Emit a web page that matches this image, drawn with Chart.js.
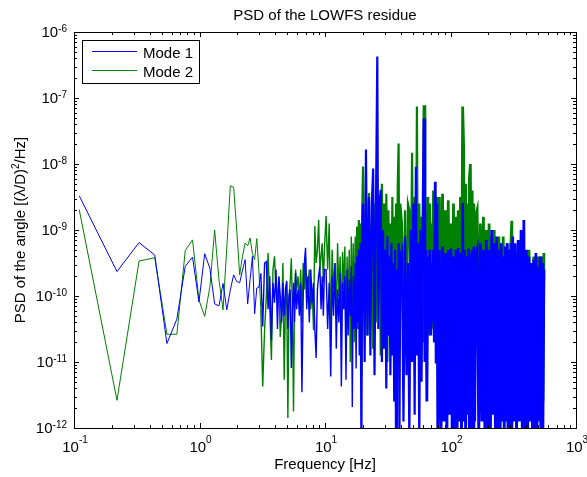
<!DOCTYPE html>
<html>
<head>
<meta charset="utf-8">
<title>PSD of the LOWFS residue</title>
<script src="https://cdn.jsdelivr.net/npm/chart.js@4.4.1/dist/chart.umd.min.js"></script>
<style>
  html, body { margin: 0; padding: 0; background: #fff; }
  canvas { display: block; }
</style>
</head>
<body>
<canvas id="psdChart" width="587" height="477"></canvas>
<script>
// frequencies [Hz] (dense part thinned to about one point per pixel)
const freqHz = [
    0.11, 0.22, 0.33, 0.44, 0.55, 0.66, 0.77, 0.88, 0.99, 1.1,
    1.21, 1.32, 1.43, 1.54, 1.65, 1.76, 1.87, 1.98, 2.09, 2.2,
    2.31, 2.42, 2.53, 2.64, 2.75, 2.86, 2.97, 3.08, 3.19, 3.3,
    3.41, 3.52, 3.63, 3.74, 3.85, 3.96, 4.07, 4.18, 4.29, 4.4,
    4.51, 4.62, 4.73, 4.84, 4.95, 5.06, 5.17, 5.28, 5.39, 5.5,
    5.61, 5.72, 5.83, 5.94,
    6.1, 6.25, 6.4, 6.55, 6.7, 6.85, 7.0, 7.15, 7.3, 7.5,
    7.7, 7.9, 8.1, 8.3, 8.5, 8.7, 8.9, 9.1, 9.3, 9.5,
    9.7, 9.9,
    10.2, 10.5, 10.8, 11.1, 11.4, 11.7, 12.0, 12.3, 12.6, 12.9,
    13.2, 13.5, 13.8, 14.1, 14.4, 14.7, 15.0, 15.3, 15.6, 15.9,
    16.2, 16.5, 16.8, 17.1, 17.4, 17.7, 18.0, 18.3, 18.6, 18.9,
    19.2, 19.5, 19.8,
    20.1, 20.7, 21.2, 21.8, 22.4, 23.0, 23.6, 24.2, 24.8, 25.4,
    26.1, 26.6, 27.2, 27.8, 28.4, 29.0, 29.6, 30.2, 30.8, 31.4,
    32.0, 32.6, 33.2, 33.8, 34.4, 35.0, 35.6, 36.2, 36.8, 37.4,
    38.0, 38.6, 39.2, 39.8,
    41, 42.2, 43.4, 44.6, 45.8, 47, 48.2, 49.4, 50.6, 51.8,
    53, 54, 55.2, 56.4, 57.6, 58.8, 60, 61.5, 62.5, 63.6,
    64.8, 66, 67.2, 68.4, 69.6, 70.8, 72, 73.2, 74.4, 75.6,
    76.8, 78, 79.2,
    81.6, 84, 86.4, 88.8, 91.2, 93.6, 96, 98.4, 100.8, 103.2,
    105.6, 108, 110.4, 112.8, 115.2, 117.6, 120, 122.4, 125, 127.2,
    129.6, 132, 134.4, 136.8, 139.2, 141.6, 144, 146.4, 148.8, 151.2,
    153.6, 156, 158.4,
    163, 168, 173, 178, 183, 188, 193, 198, 203, 208,
    213, 218, 223, 228, 233, 238, 243, 248, 253, 258,
    263, 268, 273, 278, 283, 288, 293, 298, 303, 308,
    313, 318,
    327, 336, 346, 355, 365, 374, 384, 393, 403, 412,
    422, 431, 441, 450, 460, 469, 479, 488, 498, 507,
    517, 526, 536, 545, 555
];

// log10 of the PSD, mode 1 (blue)
const mode1Exp = [
    -8.48, -9.63, -9.19, -9.38, -10.72, -10.35, -9.55, -9.41, -10.09, -9.36,
    -9.58, -10.12, -10.15, -9.81, -10.21, -9.91, -9.68, -9.78, -9.80, -9.61,
    -9.45, -10.12, -9.75, -9.40, -10.27, -9.88, -9.87, -9.66, -10.46, -9.5,
    -9.48, -10.2, -9.7, -10.67, -9.8, -10.1, -9.6, -10.5, -9.71, -10.0,
    -10.4, -9.8, -10.3, -9.9, -9.77, -10.5, -10.0, -9.9, -11.09, -10.2,
    -9.8, -10.4, -9.65, -10.2,
    -9.9, -10.3, -9.8, -11.46, -10.0, -9.5, -9.27, -10.2, -9.7, -10.4,
    -9.6, -10.1, -9.8, -10.5, -10.94, -9.9, -9.7, -9.55, -10.2, -9.7,
    -10.3, -9.6,
    -9.6, -10.5, -9.8, -11.22, -9.7, -10.3, -9.5, -10.8, -9.9, -10.4,
    -9.65, -11.37, -9.8, -10.2, -9.7, -11.27, -9.6, -10.6, -9.75, -10.3,
    -9.55, -11.68, -9.7, -10.5, -9.5, -11.1, -9.4, -10.4, -9.3, -10.9,
    -9.2, -12.3, -9.0,
    -8.6, -11.0, -7.78, -10.6, -8.5, -10.9, -8.6, -8.07, -11.2, -8.9,
    -6.37, -10.5, -8.6, -8.39, -11.0, -9.0, -10.8, -9.3, -11.4, -9.1,
    -10.6, -9.4, -11.2, -9.2, -10.9, -9.5, -11.6, -9.3, -12.2, -9.6,
    -10.8, -9.2, -12.2, -9.4,
    -9.3, -11.9, -9.1, -11.2, -9.5, -12.2, -9.0, -11.0, -8.6, -11.8,
    -8.04, -10.9, -9.2, -12.2, -9.0, -11.3, -9.3, -7.31, -11.0, -9.3,
    -11.6, -9.4, -10.5, -9.3, -10.6, -9.5, -10.4, -9.3, -10.7, -8.27,
    -11.0, -8.6, -12.2,
    -9.3, -12.2, -9.25, -11.9, -9.35, -12.2, -9.3, -11.8, -9.28, -12.2,
    -9.4, -12.0, -9.3, -12.2, -9.27, -11.9, -9.35, -12.2, -8.59, -11.9,
    -9.3, -12.2, -9.4, -11.8, -9.28, -12.2, -9.35, -12.0, -9.3, -12.2,
    -9.25, -11.9, -9.4,
    -9.3, -12.2, -9.2, -11.9, -9.3, -12.2, -9.15, -12.0, -9.3, -12.2,
    -9.0, -11.8, -9.2, -12.2, -9.1, -12.0, -9.3, -12.2, -9.2, -11.9,
    -9.4, -12.2, -9.25, -11.9, -9.2, -12.2, -9.3, -12.0, -9.2, -12.2,
    -9.1, -11.9,
    -9.2, -12.2, -9.15, -11.9, -9.0, -12.2, -8.85, -12.0, -9.3, -12.2,
    -9.4, -11.9, -9.5, -12.2, -9.45, -12.0, -9.35, -12.2, -9.55, -11.9,
    -9.4, -12.2, -9.5, -12.0, -9.6
];

// log10 of the PSD, mode 2 (green)
const mode2Exp = [
    -8.69, -11.58, -9.47, -9.42, -10.58, -10.58, -9.31, -9.15, -10.06, -10.31,
    -9.86, -9.0, -9.76, -10.21, -9.27, -8.33, -8.35, -9.0, -9.68, -9.40,
    -9.20, -9.24, -9.12, -9.36, -9.45, -9.13, -9.6, -10.2, -11.37, -10.52,
    -10.0, -9.35, -10.2, -10.97, -9.6, -9.4, -9.9, -10.0, -9.7, -10.62,
    -10.3, -9.5, -11.27, -10.1, -9.8, -11.85, -10.0, -9.8, -9.43, -10.2,
    -11.75, -10.0, -9.6, -9.9,
    -9.7, -10.1, -9.6, -10.41, -9.5, -9.9, -9.4, -10.1, -9.86, -9.6,
    -10.2, -9.9, -10.52, -8.94, -9.5, -9.3, -8.85, -9.6, -9.4, -9.2,
    -9.8, -9.3,
    -8.79, -9.6, -8.9, -10.62, -9.3, -9.9, -9.5, -10.3, -9.2, -10.0,
    -9.4, -10.5, -9.33, -9.9, -9.25, -10.8, -9.4, -10.2, -9.3, -11.0,
    -9.1, -10.4, -9.2, -10.7, -9.1, -10.0, -8.95, -10.5, -8.85, -10.2,
    -8.9, -11.2, -8.7,
    -8.04, -9.8, -8.7, -10.6, -8.44, -10.2, -8.9, -10.8, -8.6, -10.4,
    -8.8, -9.9, -8.5, -10.9, -8.3, -10.3, -8.6, -10.7, -8.45, -11.0,
    -8.7, -10.2, -8.9, -10.6, -8.5, -10.1, -8.8, -10.9, -8.6, -10.4,
    -8.3, -7.69, -10.5, -8.6,
    -8.9, -10.6, -8.7, -10.9, -8.6, -8.7, -10.4, -7.83, -10.8, -8.5,
    -10.3, -7.13, -10.9, -8.6, -10.5, -8.8, -10.7, -7.11, -10.6, -8.7,
    -10.2, -8.5, -10.6, -8.6, -10.3, -8.9, -10.5, -8.4, -10.7, -8.6,
    -10.4, -8.5, -10.8,
    -8.5, -10.9, -8.45, -11.3, -8.7, -10.6, -8.55, -11.5, -8.9, -10.8,
    -8.6, -11.7, -8.8, -10.9, -8.7, -11.2, -8.5, -10.7, -7.13, -7.74,
    -11.0, -8.3, -10.8, -8.6, -11.4, -8.2, -8.0, -10.9, -8.4, -11.3,
    -8.6, -10.7, -8.8,
    -8.7, -11.2, -8.9, -10.8, -8.8, -11.6, -9.0, -10.9, -8.9, -11.9,
    -9.1, -11.0, -9.0, -11.8, -9.2, -10.9, -9.1, -12.0, -9.2, -11.3,
    -9.1, -11.9, -9.3, -11.1, -9.2, -12.1, -9.3, -11.5, -9.2, -8.86,
    -11.8, -9.3,
    -9.3, -11.9, -9.4, -11.2, -9.3, -12.1, -9.5, -11.4, -9.4, -11.8,
    -9.3, -11.1, -9.5, -12.0, -9.4, -11.5, -9.5, -11.9, -9.4, -11.3,
    -9.5, -12.1, -9.4, -11.6, -9.35
];

const seriesLabels = ['Mode 1', 'Mode 2'];
const seriesColors = ['#0000ff', '#008000'];
const xTickExp = [-1, 0, 1, 2, 3];
const yTickExp = [-12, -11, -10, -9, -8, -7, -6];

const FONT = '"Liberation Sans", Arial, Helvetica, sans-serif';
const BIG = '15px ' + FONT;
const SMALL = '10px ' + FONT;

function toPoints(exps) {
    return freqHz.map((f, i) => ({ x: f, y: Math.pow(10, exps[i]) }));
}

// the real trace has thousands of samples per decade up there, so the
// thinned line is drawn heavier where it should read as a filled band
function bandWidth(c) {
    const f = c.p0.parsed.x;
    if (f >= 60) return 2.8;
    if (f >= 18) return 2.2;
    if (f >= 3) return 1.4;
    return 1;
}

// "10" with a raised exponent
function powerLabel(ctx, exp, x, baseline, align, lift) {
    const e = String(exp);
    ctx.font = BIG;
    const wb = ctx.measureText('10').width;
    ctx.font = SMALL;
    const we = ctx.measureText(e).width;
    const x0 = align === 'right' ? x - wb - we : x - (wb + we) / 2;
    ctx.textAlign = 'left';
    ctx.textBaseline = 'alphabetic';
    ctx.font = BIG;
    ctx.fillText('10', x0, baseline);
    ctx.font = SMALL;
    ctx.fillText(e, x0 + wb, baseline - lift);
}

const matlabAxes = {
    id: 'matlabAxes',
    afterDatasetsDraw(chart) {
        const { ctx, chartArea: a, scales: { x, y } } = chart;
        ctx.save();
        ctx.strokeStyle = '#000';
        ctx.fillStyle = '#000';
        ctx.lineWidth = 1;

        const seg = (x1, y1, x2, y2) => {
            ctx.beginPath();
            ctx.moveTo(x1, y1);
            ctx.lineTo(x2, y2);
            ctx.stroke();
        };

        // box
        ctx.strokeRect(a.left + 0.5, a.top + 0.5, a.right - a.left, a.bottom - a.top);

        // y ticks (inside, both sides)
        for (let e = yTickExp[0]; e <= yTickExp[yTickExp.length - 1]; e++) {
            for (let m = 1; m < 10; m++) {
                if (e === yTickExp[yTickExp.length - 1] && m > 1) break;
                const py = Math.round(y.getPixelForValue(m * Math.pow(10, e))) + 0.5;
                const len = m === 1 ? 5 : 3;
                seg(a.left, py, a.left + len, py);
                seg(a.right, py, a.right - len, py);
            }
        }
        // x ticks (inside, top and bottom)
        for (let e = xTickExp[0]; e <= xTickExp[xTickExp.length - 1]; e++) {
            for (let m = 1; m < 10; m++) {
                if (e === xTickExp[xTickExp.length - 1] && m > 1) break;
                const px = Math.round(x.getPixelForValue(m * Math.pow(10, e))) + 0.5;
                const len = m === 1 ? 5 : 3;
                seg(px, a.bottom, px, a.bottom - len);
                seg(px, a.top, px, a.top + len);
            }
        }

        // tick labels
        yTickExp.forEach(e => {
            const py = y.getPixelForValue(Math.pow(10, e));
            powerLabel(ctx, e, a.left - 7, py + 5.3, 'right', 5);
        });
        xTickExp.forEach(e => {
            const px = x.getPixelForValue(Math.pow(10, e));
            powerLabel(ctx, e, px + 1, a.bottom + 23.7, 'center', 8.5);
        });

        // title and axis labels
        const cx = (a.left + a.right) / 2;
        ctx.font = BIG;
        ctx.textAlign = 'center';
        ctx.textBaseline = 'alphabetic';
        ctx.fillText('PSD of the LOWFS residue', cx, 20);
        ctx.fillText('Frequency [Hz]', cx, 469);

        const parts = [['PSD of the angle [(\u03bb/D)', BIG, 0], ['2', SMALL, -6], ['/Hz]', BIG, 0]];
        let total = 0;
        parts.forEach(p => { ctx.font = p[1]; total += ctx.measureText(p[0]).width; });
        ctx.save();
        ctx.translate(24.5, (a.top + a.bottom) / 2);
        ctx.rotate(-Math.PI / 2);
        ctx.textAlign = 'left';
        let tx = -total / 2;
        parts.forEach(p => {
            ctx.font = p[1];
            ctx.fillText(p[0], tx, p[2]);
            tx += ctx.measureText(p[0]).width;
        });
        ctx.restore();

        // legend
        ctx.fillStyle = '#fff';
        ctx.fillRect(82.5, 40.5, 117, 43);
        ctx.strokeStyle = '#000';
        ctx.strokeRect(82.5, 40.5, 117, 43);
        chart.data.datasets.forEach((ds, i) => {
            const ly = 51.5 + i * 19;
            ctx.strokeStyle = ds.borderColor;
            seg(92, ly, 137, ly);
            ctx.fillStyle = '#000';
            ctx.font = BIG;
            ctx.textAlign = 'left';
            ctx.fillText(ds.label, 143, 58 + i * 19);
        });
        ctx.restore();
    }
};

new Chart(document.getElementById('psdChart'), {
    type: 'line',
    data: {
        datasets: [
            { label: seriesLabels[0], data: toPoints(mode1Exp), borderColor: seriesColors[0], borderWidth: 1, segment: { borderWidth: bandWidth } },
            { label: seriesLabels[1], data: toPoints(mode2Exp), borderColor: seriesColors[1], borderWidth: 1, segment: { borderWidth: bandWidth } }
        ]
    },
    options: {
        responsive: false,
        animation: false,
        devicePixelRatio: 1,
        layout: { padding: { left: 74, right: 11, top: 32, bottom: 49 } },
        elements: {
            point: { radius: 0, hoverRadius: 0 },
            line: { tension: 0, fill: false }
        },
        plugins: {
            legend: { display: false },
            title: { display: false },
            tooltip: { enabled: false }
        },
        scales: {
            x: { type: 'logarithmic', min: 0.1, max: 1000, display: false },
            y: { type: 'logarithmic', min: 1e-12, max: 1e-6, display: false }
        }
    },
    plugins: [matlabAxes]
});
</script>
</body>
</html>
